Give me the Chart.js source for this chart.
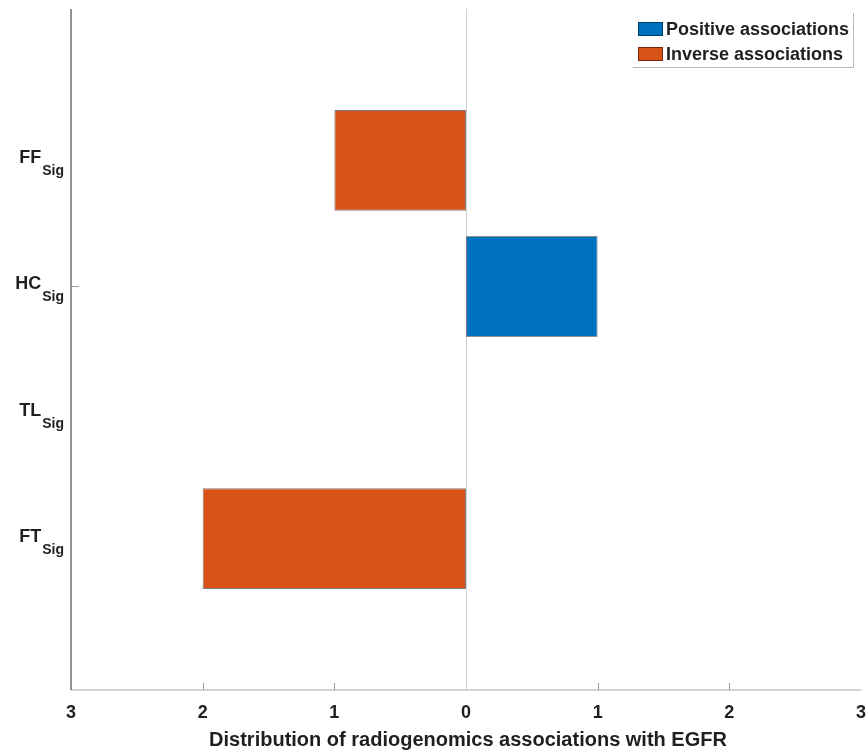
<!DOCTYPE html>
<html>
<head>
<meta charset="utf-8">
<script src="https://cdn.jsdelivr.net/npm/chart.js@4.4.1/dist/chart.umd.min.js"></script>
<style>
  html, body { margin: 0; padding: 0; background: #fff; }
  #wrap { width: 868px; height: 752px; }
</style>
</head>
<body>
<div id="wrap"><canvas id="c" width="868" height="752"></canvas></div>
<script>
// Feature groups (top to bottom), each drawn with a "Sig" subscript
const categories = ['FF', 'HC', 'TL', 'FT'];
const subscript = 'Sig';
// Number of positive / inverse radiogenomics associations per feature group
const positiveCounts = [0, 1, 0, 0];
const inverseCounts = [1, 0, 0, 2];
// Tick positions on the count axis (labels show absolute counts)
const xTicks = [-3, -2, -1, 0, 1, 2, 3];
const seriesNames = ['Positive associations', 'Inverse associations'];
const xTitle = 'Distribution of radiogenomics associations with EGFR';

const BLUE = '#0072BD';
const ORANGE = '#D95319';
const TEXT = '#1f1f1f';
const FONT = '"Liberation Sans", Arial, sans-serif';

// rows are placed at 1..n on a linear index axis so the margins above/below can be fractional
const toPoints = (vals, sign) => vals.map((v, i) => ({ y: i + 1, x: v === 0 ? null : sign * v }));

const axesPlugin = {
  id: 'matlabAxes',
  beforeDatasetsDraw(chart) {
    const { ctx, chartArea: a, scales: { x } } = chart;
    ctx.save();
    // zero reference line
    const x0 = Math.round(x.getPixelForValue(0)) + 0.5;
    ctx.strokeStyle = '#d0d0d0';
    ctx.lineWidth = 1;
    ctx.beginPath();
    ctx.moveTo(x0, a.top);
    ctx.lineTo(x0, a.bottom);
    ctx.stroke();
    ctx.restore();
  },
  afterDatasetsDraw(chart) {
    const { ctx, chartArea: a, scales: { x, y } } = chart;
    ctx.save();
    // bottom axis
    ctx.strokeStyle = '#c4c4c4';
    ctx.lineWidth = 1.5;
    ctx.beginPath();
    ctx.moveTo(a.left, a.bottom);
    ctx.lineTo(a.right, a.bottom);
    ctx.stroke();
    // inward ticks on the bottom axis
    ctx.strokeStyle = '#9a9a9a';
    ctx.lineWidth = 1;
    xTicks.forEach(v => {
      if (v === 0 || Math.abs(v) === 3) return;
      const px = Math.round(x.getPixelForValue(v)) + 0.5;
      ctx.beginPath();
      ctx.moveTo(px, a.bottom);
      ctx.lineTo(px, a.bottom - 7);
      ctx.stroke();
    });
    // left axis
    ctx.strokeStyle = '#6e6e6e';
    ctx.lineWidth = 1.5;
    ctx.beginPath();
    ctx.moveTo(a.left, a.top);
    ctx.lineTo(a.left, a.bottom);
    ctx.stroke();
    // single inward tick on the left axis at the second row
    ctx.strokeStyle = '#9a9a9a';
    ctx.lineWidth = 1;
    const ty = Math.round(y.getPixelForValue(2)) + 0.5;
    ctx.beginPath();
    ctx.moveTo(a.left, ty);
    ctx.lineTo(a.left + 8, ty);
    ctx.stroke();

    // x tick labels (absolute counts)
    ctx.fillStyle = TEXT;
    ctx.font = 'bold 18px ' + FONT;
    ctx.textAlign = 'center';
    ctx.textBaseline = 'alphabetic';
    xTicks.forEach(v => {
      ctx.fillText(String(Math.abs(v)), x.getPixelForValue(v), 718);
    });
    // x axis title
    ctx.font = 'bold 20px ' + FONT;
    ctx.fillText(xTitle, (a.left + a.right) / 2 + 2, 746);

    // row labels with subscript
    categories.forEach((c, i) => {
      const cy = y.getPixelForValue(i + 1);
      ctx.font = 'bold 14px ' + FONT;
      const subW = ctx.measureText(subscript).width;
      const subX = 64 - subW;
      ctx.textAlign = 'left';
      ctx.fillText(subscript, subX, cy + 15);
      ctx.font = 'bold 18px ' + FONT;
      ctx.textAlign = 'right';
      ctx.fillText(c, subX - 1, cy + 3);
    });

    // legend
    const lx = 633, ly = 13, lw = 220, lh = 54;
    ctx.strokeStyle = '#b8b8b8';
    ctx.lineWidth = 1;
    ctx.beginPath();
    ctx.moveTo(lx + lw + 0.5, ly);
    ctx.lineTo(lx + lw + 0.5, ly + lh + 0.5);
    ctx.lineTo(lx, ly + lh + 0.5);
    ctx.stroke();
    chart.data.datasets.forEach((ds, i) => {
      const sy = 22 + i * 25;
      ctx.fillStyle = ds.backgroundColor;
      ctx.fillRect(638, sy, 25, 14);
      ctx.strokeStyle = 'rgba(0,0,0,0.45)';
      ctx.strokeRect(638.5, sy + 0.5, 24, 13);
      ctx.fillStyle = TEXT;
      ctx.font = 'bold 18px ' + FONT;
      ctx.textAlign = 'left';
      ctx.fillText(ds.label, 666, sy + 13);
    });
    ctx.restore();
  }
};

new Chart(document.getElementById('c'), {
  type: 'bar',
  data: {
    datasets: [
      {
        label: seriesNames[0],
        data: toPoints(positiveCounts, 1),
        backgroundColor: BLUE,
        borderColor: 'rgba(70,70,70,0.6)',
        borderWidth: 1,
        borderSkipped: false
      },
      {
        label: seriesNames[1],
        data: toPoints(inverseCounts, -1),
        backgroundColor: ORANGE,
        borderColor: 'rgba(40,40,40,0.6)',
        borderWidth: 1,
        borderSkipped: false
      }
    ]
  },
  options: {
    indexAxis: 'y',
    responsive: false,
    animation: false,
    events: [],
    layout: { padding: { left: 71, right: 7, top: 9, bottom: 62 } },
    datasets: { bar: { categoryPercentage: 0.8, barPercentage: 1 } },
    scales: {
      x: { type: 'linear', min: -3, max: 3, stacked: true, display: false },
      y: {
        type: 'linear', min: -0.2, max: 5.2, reverse: true, stacked: true,
        offset: false, display: false,
        // one tick per row, so bar thickness follows the row spacing
        afterBuildTicks: s => { s.ticks = categories.map((c, i) => ({ value: i + 1 })); }
      }
    },
    plugins: { legend: { display: false }, tooltip: { enabled: false } }
  },
  plugins: [axesPlugin]
});
</script>
</body>
</html>
